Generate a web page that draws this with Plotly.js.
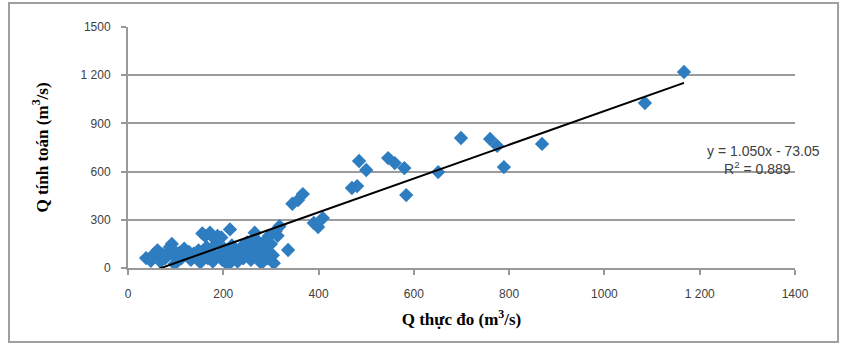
<!DOCTYPE html>
<html>
<head>
<meta charset="utf-8">
<script src="https://cdn.plot.ly/plotly-3.0.1.min.js"></script>
<style>html,body{margin:0;padding:0;background:#fff;}#chart{width:844px;height:345px;}</style>
</head>
<body>
<div id="chart"></div>
<script>
// Measured discharge (x) and computed discharge (y), m3/s
const qMeasured = [38,48,55,60,62,68,72,78,82,88,92,96,98,100,104,
  108,112,118,122,128,132,138,142,148,152,156,158,
  162,165,168,172,175,178,182,185,188,192,196,198,202,206,210,214,218,222,
  226,230,234,238,242,246,250,254,258,262,266,268,272,276,280,284,288,292,296,300,304,306,310,314,318,
  336,345,357,367,390,399,409,470,481,485,500,546,560,580,584,651,699,760,775,789,869,1085,1167];
const qComputed = [62,45,88,70,110,40,85,60,95,130,150,110,25,70,45,
  95,60,120,80,100,50,90,70,110,35,215,80,
  200,130,60,220,100,40,180,150,200,80,190,50,120,90,20,240,140,70,
  100,40,80,130,60,110,160,90,50,140,220,180,120,80,30,160,110,60,200,150,80,30,230,200,260,
  112,400,423,460,280,255,311,498,510,666,610,684,653,622,454,597,809,803,760,628,772,1027,1220];
const slope = 1.050, intercept = -73.05;
const eqText = "y = 1.050x - 73.05";
const r2Text = "R<sup>2</sup> = 0.889";
const xTickVals = [0,200,400,600,800,1000,1200,1400];
const xTickText = ["0","200","400","600","800","1000","1 200","1400"];
const yTickVals = [0,300,600,900,1200,1500];
const yTickText = ["0","300","600","900","1 200","1500"];

const xMin = Math.min(...qMeasured), xMax = Math.max(...qMeasured);
const trendX = [xMin, xMax];
const trendY = trendX.map(v => slope * v + intercept);

const tickFont = {family: "Liberation Sans, Arial, sans-serif", size: 12, color: "#404040"};
const titleFont = {family: "Liberation Serif, Times New Roman, serif", size: 17, color: "#000"};
const eqFont = {family: "Liberation Sans, Arial, sans-serif", size: 14, color: "#404040"};

const data = [
  {x: qMeasured, y: qComputed, type: "scatter", mode: "markers",
   marker: {symbol: "diamond", size: 11, color: "#2E7DC0"}, hoverinfo: "x+y"},
  {x: trendX, y: trendY, type: "scatter", mode: "lines",
   line: {color: "#000", width: 2}, hoverinfo: "skip"}
];

const layout = {
  width: 844, height: 345,
  margin: {l: 128, r: 49, t: 27, b: 77},
  paper_bgcolor: "#fff", plot_bgcolor: "#fff",
  showlegend: false,
  font: tickFont,
  xaxis: {range: [0, 1400], tickvals: xTickVals, ticktext: xTickText,
    showgrid: false, zeroline: false, showline: true, linecolor: "#999", linewidth: 2,
    ticks: "outside", ticklen: 5, tickwidth: 2, tickcolor: "#999", tickfont: tickFont,
    ticklabelstandoff: 9,
    title: {text: "<b>Q thực đo (m<sup>3</sup>/s)</b>", font: titleFont, standoff: 13}},
  yaxis: {range: [0, 1500], tickvals: yTickVals, ticktext: yTickText,
    showgrid: true, gridcolor: "#9c9c9c", gridwidth: 2, zeroline: false,
    showline: true, linecolor: "#999", linewidth: 2,
    ticks: "outside", ticklen: 5, tickwidth: 2, tickcolor: "#999", tickfont: tickFont,
    ticklabelstandoff: 8,
    title: {text: "<b>Q tính toán (m<sup>3</sup>/s)</b>", font: titleFont, standoff: 28}},
  annotations: [
    {xref: "paper", yref: "paper", x: 1.0405, y: 0.4855, xanchor: "right", yanchor: "middle",
     text: eqText, showarrow: false, font: eqFont},
    {xref: "paper", yref: "paper", x: 0.997, y: 0.415, xanchor: "right", yanchor: "middle",
     text: r2Text, showarrow: false, font: eqFont}
  ],
  shapes: [
    {type: "rect", xref: "paper", yref: "paper", x0: -0.1784, x1: 1.0645, y0: -0.307, y1: 1.0996,
     line: {color: "#a0a0a0", width: 2}, fillcolor: "rgba(0,0,0,0)", layer: "below"}
  ]
};

Plotly.newPlot("chart", data, layout, {displayModeBar: false, staticPlot: true});
</script>
</body>
</html>
